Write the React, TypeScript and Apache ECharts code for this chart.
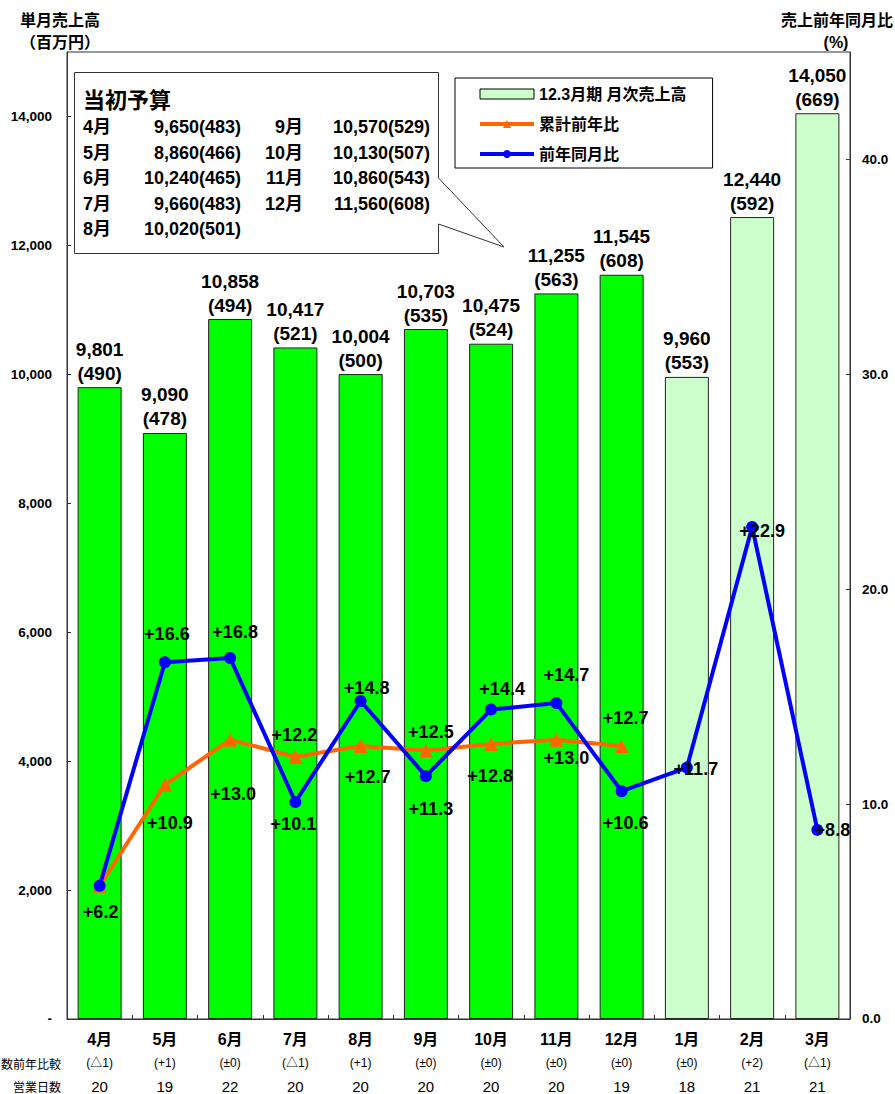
import React, { useEffect, useRef } from "react";
import * as echarts from "echarts";

const FONT = "'Liberation Sans', 'Noto Sans CJK JP', sans-serif";

const months = ["4月", "5月", "6月", "7月", "8月", "9月", "10月", "11月", "12月", "1月", "2月", "3月"];
const sales = [9801, 9090, 10858, 10417, 10004, 10703, 10475, 11255, 11545, 9960, 12440, 14050];
const salesSub = [490, 478, 494, 521, 500, 535, 524, 563, 608, 553, 592, 669];
const actualCount = 9;
const yoy = [6.2, 16.6, 16.8, 10.1, 14.8, 11.3, 14.4, 14.7, 10.6, 11.7, 22.9, 8.8];
const cumYoy: (number | null)[] = [6.2, 10.9, 13.0, 12.2, 12.7, 12.5, 12.8, 13.0, 12.7, null, null, null];
const dayDiff = ["(△1)", "(+1)", "(±0)", "(△1)", "(+1)", "(±0)", "(±0)", "(±0)", "(±0)", "(±0)", "(+2)", "(△1)"];
const workDays = [20, 19, 22, 20, 20, 20, 20, 20, 19, 18, 21, 21];

const budgetMonths = ["4月", "5月", "6月", "7月", "8月", "9月", "10月", "11月", "12月"];
const budgetValues = [9650, 8860, 10240, 9660, 10020, 10570, 10130, 10860, 11560];
const budgetSub = [483, 466, 465, 483, 501, 529, 507, 543, 608];

const leftTicks = { min: 0, max: 15000, interval: 2000 };
const rightTicks = { min: 0, max: 45, interval: 10 };

// label offsets (layout only)
const yoyLabelOffset: [number, number][] = [
  [1, 26], [2, -28], [5, -26], [-2, 22], [6, -13], [5, 33], [11, -21], [10, -28], [4, 32], [9, 1], [10, 4], [15, 0],
];
const cumLabelOffset: ([number, number] | null)[] = [
  null, [5, 38], [3, 54], [-1, -22], [7, 31], [5, -18], [-1, 32], [10, 18], [4, -28],
];

const fmt = (v: number) => v.toLocaleString("en-US");

function txt(x: number, y: number, text: string, size: number, align: string, bold = true, z = 20) {
  return {
    type: "text",
    x,
    y,
    z,
    style: {
      text,
      font: `${bold ? "bold " : ""}${size}px ${FONT}`,
      fill: "#000",
      textAlign: align,
      align,
      textVerticalAlign: "middle",
      verticalAlign: "middle",
    },
  };
}

export default function App() {
  const ref = useRef<HTMLDivElement>(null);
  useEffect(() => {
    document.body.style.margin = "0";
    if (!ref.current) return;
    const chart = echarts.init(ref.current, null, { renderer: "svg" });

    const graphics: any[] = [];
    graphics.push(txt(20, 20, "単月売上高", 16, "left"));
    graphics.push(txt(60, 42, "（百万円）", 16, "center"));
    graphics.push(txt(893, 20, "売上前年同月比", 16, "right"));
    graphics.push(txt(836, 42, "(%)", 16, "center"));
    graphics.push(txt(61, 1065, "数前年比較", 12, "right", false));
    graphics.push(txt(61, 1088, "営業日数", 12, "right", false));

    graphics.push({
      type: "polygon",
      z: 15,
      shape: {
        points: [
          [74.5, 72.5], [438.5, 72.5], [438.5, 178], [504, 247], [438.5, 224], [438.5, 253.5], [74.5, 253.5],
        ],
      },
      style: { fill: "#fff", stroke: "#333", lineWidth: 1 },
    });
    graphics.push(txt(83, 100, "当初予算", 22, "left"));
    budgetMonths.forEach((m, i) => {
      const col = i < 5 ? 0 : 1;
      const row = i < 5 ? i : i - 5;
      const y = 127 + row * 25.5;
      const val = `${fmt(budgetValues[i])}(${budgetSub[i]})`;
      if (col === 0) {
        graphics.push(txt(83, y, m, 18, "left"));
        graphics.push(txt(241, y, val, 18, "right"));
      } else {
        graphics.push(txt(303, y, m, 18, "right"));
        graphics.push(txt(430, y, val, 18, "right"));
      }
    });

    const option: any = {
      animation: false,
      backgroundColor: "#fff",
      textStyle: { fontFamily: FONT },
      grid: { left: 67, right: 45, top: 52, bottom: 74, show: true, borderColor: "#333", borderWidth: 1 },
      legend: {
        orient: "vertical",
        left: 455,
        top: 78,
        padding: [8, 26, 6, 23],
        itemGap: 14,
        itemWidth: 54,
        itemHeight: 10,
        borderColor: "#000",
        borderWidth: 1,
        backgroundColor: "#fff",
        textStyle: { fontFamily: FONT, fontWeight: "bold", fontSize: 16, color: "#000" },
        data: [
          { name: "12.3月期 月次売上高", icon: "rect", itemStyle: { color: "#ccffcc", borderColor: "#000", borderWidth: 1 } },
          { name: "累計前年比", lineStyle: { width: 4, color: "#ff6600" } },
          { name: "前年同月比", lineStyle: { width: 4, color: "#0000ff" } },
        ],
      },
      xAxis: {
        type: "category",
        data: months,
        axisLine: { lineStyle: { color: "#333" } },
        axisTick: { show: true, inside: true, length: 4, lineStyle: { color: "#333" } },
        axisLabel: {
          margin: 9,
          interval: 0,
          formatter: (v: string, i: number) => `{m|${v}}\n{d|${dayDiff[i]}}\n{n|${workDays[i]}}`,
          rich: {
            m: { fontFamily: FONT, fontWeight: "bold", fontSize: 16, lineHeight: 24, color: "#000" },
            d: { fontFamily: FONT, fontSize: 12, lineHeight: 23, color: "#000" },
            n: { fontFamily: FONT, fontSize: 15, lineHeight: 23, color: "#000" },
          },
        },
      },
      yAxis: [
        {
          type: "value",
          ...leftTicks,
          axisLine: { show: true, lineStyle: { color: "#333" } },
          axisTick: { show: true, inside: true, length: 4, lineStyle: { color: "#333" } },
          splitLine: { show: false },
          axisLabel: {
            showMaxLabel: false,
            margin: 15,
            fontFamily: FONT,
            fontWeight: "bold",
            fontSize: 13.5,
            color: "#000",
            formatter: (v: number) => (v === 0 ? "-" : fmt(v)),
          },
        },
        {
          type: "value",
          ...rightTicks,
          axisLine: { show: true, lineStyle: { color: "#333" } },
          axisTick: { show: true, inside: true, length: 4, lineStyle: { color: "#333" } },
          splitLine: { show: false },
          axisLabel: {
            showMaxLabel: false,
            margin: 12,
            fontFamily: FONT,
            fontWeight: "bold",
            fontSize: 13.5,
            color: "#000",
            formatter: (v: number) => v.toFixed(1),
          },
        },
      ],
      series: [
        {
          name: "12.3月期 月次売上高",
          type: "bar",
          barWidth: 44,
          data: sales.map((v, i) => ({
            value: v,
            itemStyle: { color: i < actualCount ? "#00ff00" : "#ccffcc", borderColor: "#222", borderWidth: 1 },
          })),
          label: {
            show: true,
            position: "top",
            distance: 2,
            formatter: (p: any) => `{a|${fmt(sales[p.dataIndex])}}\n{a|(${salesSub[p.dataIndex]})}`,
            rich: { a: { fontFamily: FONT, fontWeight: "bold", fontSize: 19, lineHeight: 24, color: "#000" } },
          },
        },
        {
          name: "累計前年比",
          type: "line",
          yAxisIndex: 1,
          color: "#ff6600",
          symbol: "triangle",
          symbolSize: 14,
          lineStyle: { color: "#ff6600", width: 4 },
          itemStyle: { color: "#ff6600" },
          data: cumYoy.map((v, i) => {
            const off = cumLabelOffset[i];
            return {
              value: v,
              label: off ? { show: true, offset: off } : { show: false },
            };
          }),
          label: {
            show: true,
            position: "inside",
            fontFamily: FONT,
            fontWeight: "bold",
            fontSize: 18,
            color: "#000",
            formatter: (p: any) => `+${Number(p.value).toFixed(1)}`,
          },
          z: 3,
        },
        {
          name: "前年同月比",
          type: "line",
          yAxisIndex: 1,
          color: "#0000ff",
          symbol: "circle",
          symbolSize: 12,
          lineStyle: { color: "#0000ff", width: 4 },
          itemStyle: { color: "#0000ff" },
          data: yoy.map((v, i) => ({ value: v, label: { offset: yoyLabelOffset[i] } })),
          label: {
            show: true,
            position: "inside",
            fontFamily: FONT,
            fontWeight: "bold",
            fontSize: 18,
            color: "#000",
            formatter: (p: any) => `+${Number(p.value).toFixed(1)}`,
          },
          z: 4,
        },
      ],
      graphic: graphics,
    };
    chart.setOption(option);
    return () => chart.dispose();
  }, []);
  return <div ref={ref} style={{ width: 895, height: 1094 }} />;
}
